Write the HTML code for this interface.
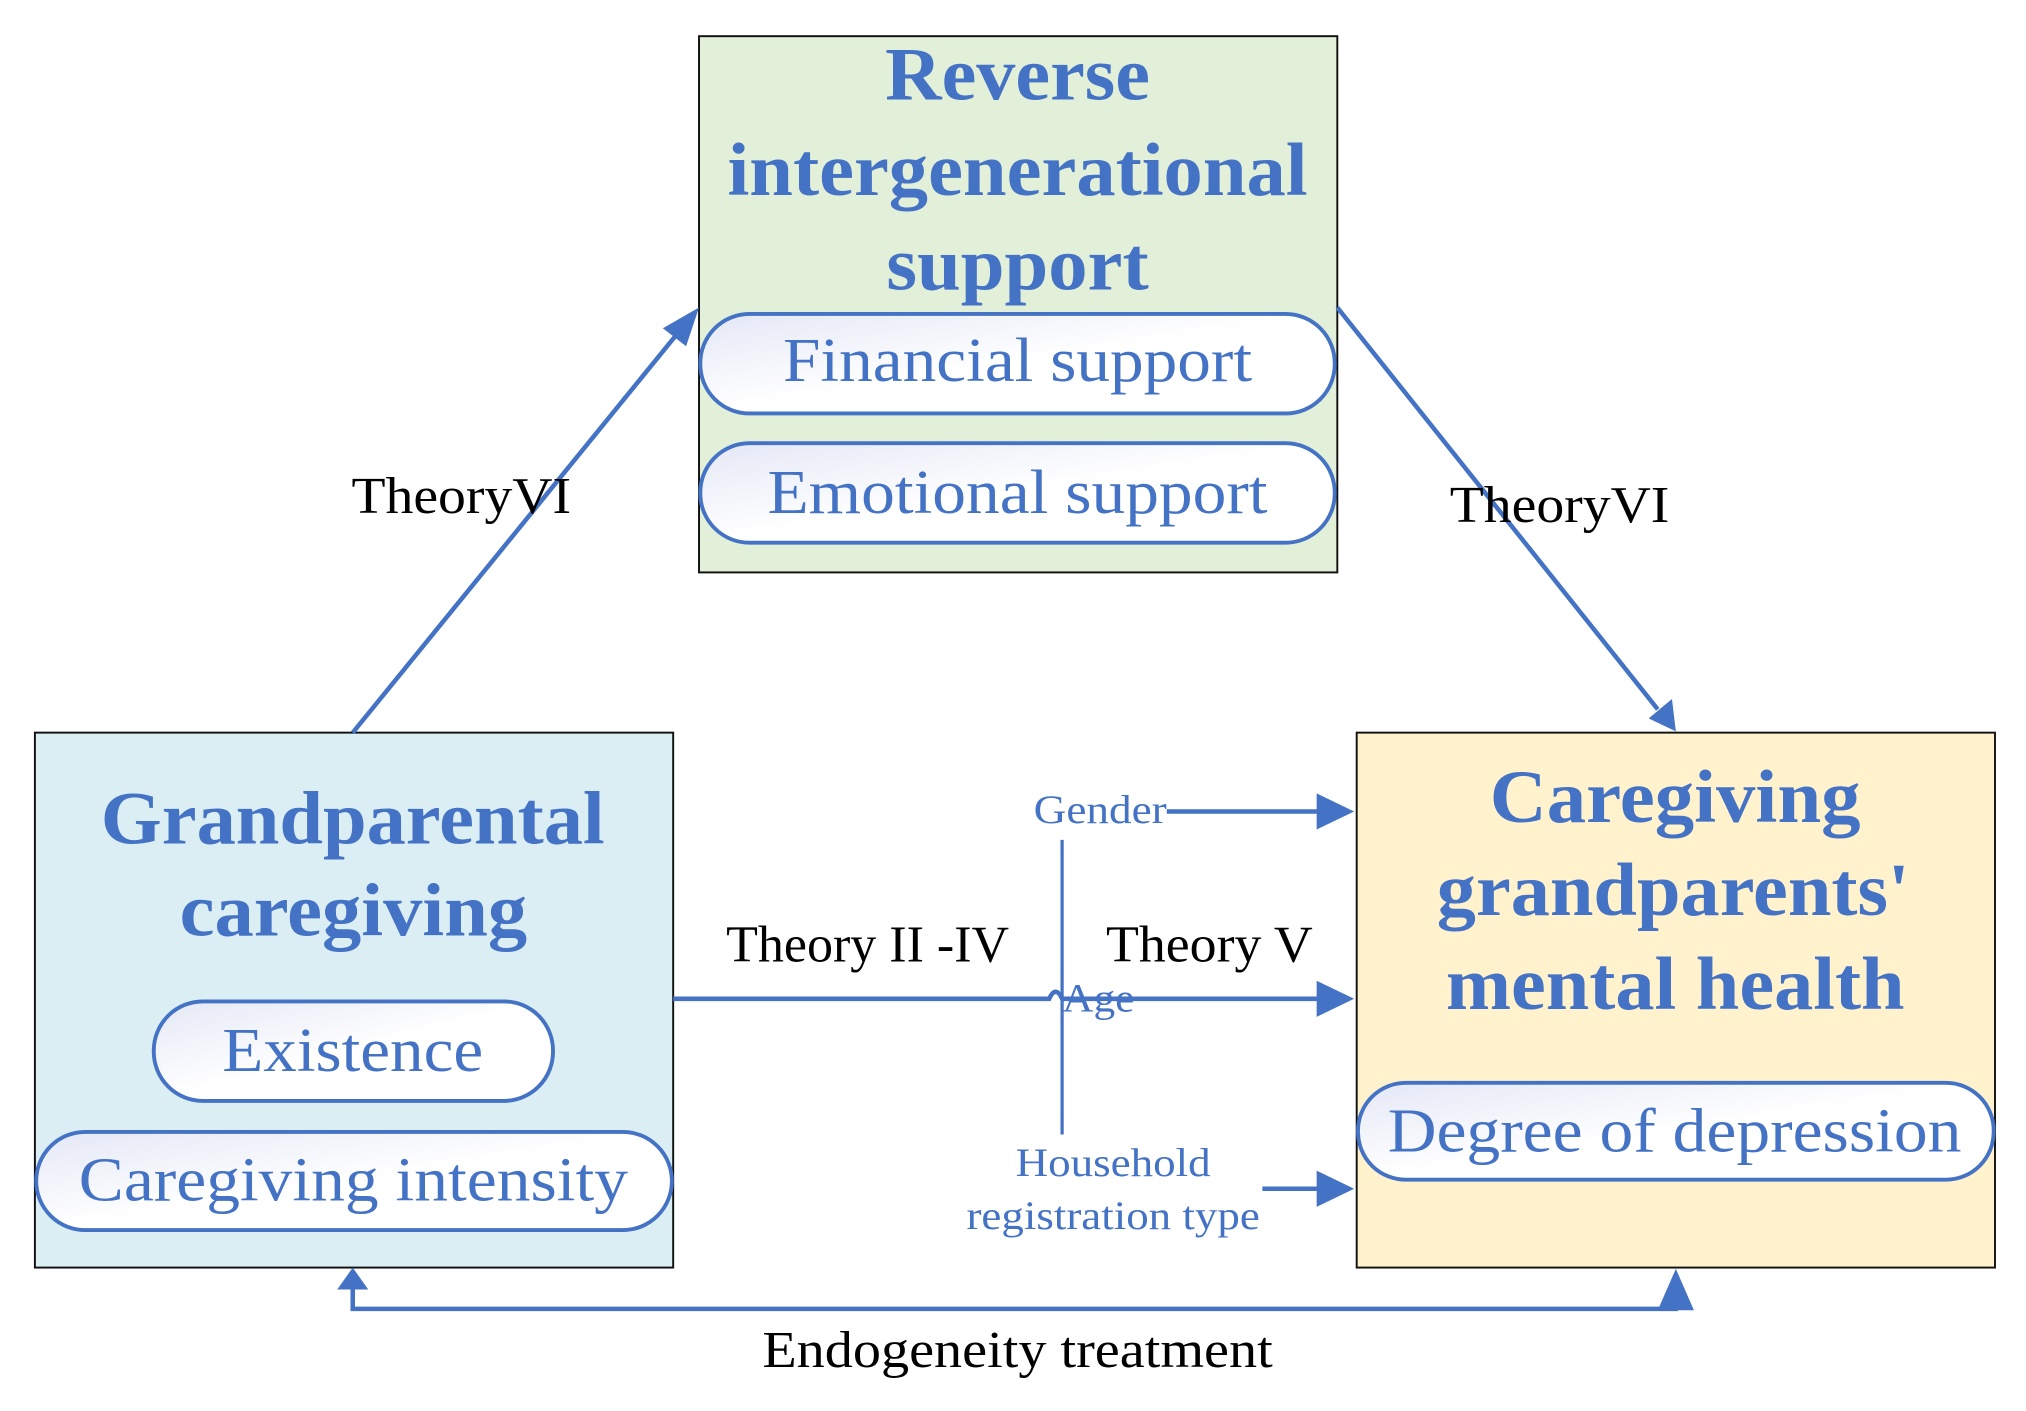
<!DOCTYPE html>
<html><head><meta charset="utf-8"><style>
html,body{margin:0;padding:0;background:#fff;}
svg{display:block;}
</style></head><body>
<svg width="2026" height="1411" viewBox="0 0 1568 1092" preserveAspectRatio="none" xmlns="http://www.w3.org/2000/svg">
<defs>
<linearGradient id="pg" x1="0" y1="0" x2="1" y2="1">
<stop offset="0" stop-color="#e4e8f6"/><stop offset="0.5" stop-color="#ffffff"/><stop offset="1" stop-color="#ffffff"/>
</linearGradient>
</defs>
<g font-family="'Liberation Serif',serif">
<!-- top box -->
<rect x="541" y="28" width="494" height="415" fill="#e2efd9" stroke="#111" stroke-width="1.5"/>
<g fill="#4472c4" font-weight="bold" font-size="58">
<text x="685" y="77" textLength="205" lengthAdjust="spacingAndGlyphs">Reverse</text>
<text x="563" y="151" textLength="449" lengthAdjust="spacingAndGlyphs">intergenerational</text>
<text x="686" y="224" textLength="203" lengthAdjust="spacingAndGlyphs">support</text>
</g>
<rect x="542" y="243" width="491" height="77" rx="38" fill="url(#pg)" stroke="#4472c4" stroke-width="3"/>
<rect x="542" y="343" width="491" height="77" rx="38" fill="url(#pg)" stroke="#4472c4" stroke-width="3"/>
<g fill="#4472c4" font-size="48">
<text x="606" y="295" textLength="363" lengthAdjust="spacingAndGlyphs">Financial support</text>
<text x="594" y="397" textLength="387" lengthAdjust="spacingAndGlyphs">Emotional support</text>
</g>
<!-- left box -->
<rect x="27" y="567" width="494" height="414" fill="#dbeef4" stroke="#111" stroke-width="1.5"/>
<g fill="#4472c4" font-weight="bold" font-size="58">
<text x="78" y="653" textLength="390" lengthAdjust="spacingAndGlyphs">Grandparental</text>
<text x="139" y="724" textLength="269" lengthAdjust="spacingAndGlyphs">caregiving</text>
</g>
<rect x="119" y="775" width="309" height="77" rx="38" fill="url(#pg)" stroke="#4472c4" stroke-width="3"/>
<rect x="28" y="876" width="492" height="76" rx="38" fill="url(#pg)" stroke="#4472c4" stroke-width="3"/>
<g fill="#4472c4" font-size="48">
<text x="172" y="829" textLength="202" lengthAdjust="spacingAndGlyphs">Existence</text>
<text x="61" y="929" textLength="425" lengthAdjust="spacingAndGlyphs">Caregiving intensity</text>
</g>
<!-- right box -->
<rect x="1050" y="567" width="494" height="414" fill="#fff2cc" stroke="#111" stroke-width="1.5"/>
<g fill="#4472c4" font-weight="bold" font-size="58">
<text x="1153" y="636" textLength="287" lengthAdjust="spacingAndGlyphs">Caregiving</text>
<text x="1112" y="708" textLength="366" lengthAdjust="spacingAndGlyphs">grandparents'</text>
<text x="1119" y="781" textLength="355" lengthAdjust="spacingAndGlyphs">mental health</text>
</g>
<rect x="1051" y="838" width="492" height="75" rx="37" fill="url(#pg)" stroke="#4472c4" stroke-width="3"/>
<text x="1074" y="891" fill="#4472c4" font-size="48" textLength="444" lengthAdjust="spacingAndGlyphs">Degree of depression</text>
<!-- connectors -->
<g stroke="#4472c4" stroke-width="3.5" fill="none">
<line x1="273" y1="567" x2="526" y2="256"/>
<line x1="1035" y1="238" x2="1283" y2="549"/>
<line x1="903" y1="628" x2="1020" y2="628"/>
<path d="M521,773 L812,773 Q817,762 822,773 L1020,773"/>
<line x1="977" y1="920" x2="1020" y2="920"/>
<line x1="822" y1="650" x2="822" y2="878" stroke-width="2.5"/>
<path d="M273,995 L273,1013 L1297,1013 L1297,1005"/>
</g>
<g fill="#4472c4">
<polygon points="541,238 531,268 513,254"/>
<polygon points="1297,566 1276,556 1294,541"/>
<polygon points="1048,628 1019,614 1019,642"/>
<polygon points="1048,773 1019,759 1019,787"/>
<polygon points="1048,920 1019,906 1019,934"/>
<polygon points="273,981 261,998 285,998"/>
<polygon points="1297,982 1283,1014 1311,1014"/>
</g>
<!-- labels -->
<g fill="#000" font-size="40">
<text x="272" y="397" textLength="170" lengthAdjust="spacingAndGlyphs">TheoryVI</text>
<text x="1122" y="404" textLength="170" lengthAdjust="spacingAndGlyphs">TheoryVI</text>
<text x="562" y="744" textLength="219" lengthAdjust="spacingAndGlyphs">Theory II -IV</text>
<text x="856" y="744" textLength="160" lengthAdjust="spacingAndGlyphs">Theory V</text>
<text x="590" y="1058" textLength="395" lengthAdjust="spacingAndGlyphs">Endogeneity treatment</text>
</g>
<g fill="#4472c4" font-size="31">
<text x="800" y="637" textLength="103" lengthAdjust="spacingAndGlyphs">Gender</text>
<text x="822" y="783" textLength="56" lengthAdjust="spacingAndGlyphs">Age</text>
<text x="786" y="910" textLength="151" lengthAdjust="spacingAndGlyphs">Household</text>
<text x="748" y="951" textLength="227" lengthAdjust="spacingAndGlyphs">registration type</text>
</g>
</g>
</svg>
</body></html>
